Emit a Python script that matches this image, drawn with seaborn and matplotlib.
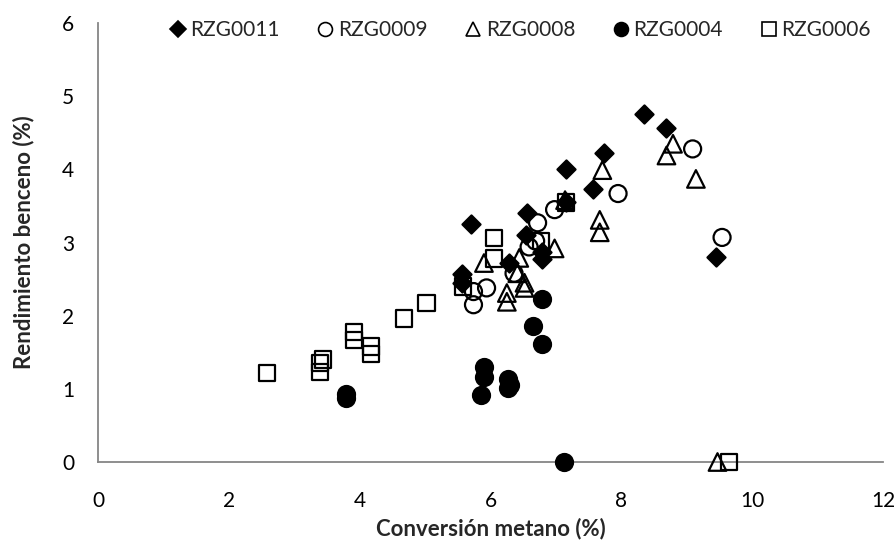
import matplotlib
matplotlib.use("Agg")
import matplotlib.pyplot as plt
import seaborn as sns
import pandas as pd
from matplotlib.lines import Line2D

# ---- data ----
x_rzg0011 = [8.34, 8.68, 7.73, 7.16, 7.57, 7.15, 6.56, 5.70, 6.55, 6.79, 6.79, 6.28, 5.56, 5.56, 9.44]
y_rzg0011 = [4.76, 4.56, 4.22, 4.00, 3.73, 3.56, 3.41, 3.25, 3.10, 2.87, 2.78, 2.72, 2.57, 2.45, 2.80]

x_rzg0009 = [9.09, 7.95, 6.98, 6.72, 6.69, 6.59, 6.36, 5.94, 5.74, 5.74, 9.54]
y_rzg0009 = [4.28, 3.67, 3.45, 3.27, 3.02, 2.94, 2.58, 2.38, 2.33, 2.15, 3.07]

x_rzg0008 = [8.79, 8.69, 9.14, 7.71, 7.67, 7.67, 7.14, 6.98, 6.44, 5.90, 6.41, 6.52, 6.52, 6.25, 6.25, 9.47]
y_rzg0008 = [4.35, 4.19, 3.87, 3.99, 3.31, 3.14, 3.58, 2.92, 2.79, 2.72, 2.58, 2.45, 2.38, 2.31, 2.19, 0.00]

x_rzg0004 = [6.79, 6.65, 6.79, 5.90, 5.90, 5.85, 6.27, 6.30, 6.27, 3.79, 3.79, 7.12]
y_rzg0004 = [2.23, 1.86, 1.61, 1.30, 1.16, 0.92, 1.13, 1.05, 1.01, 0.93, 0.87, 0.00]

x_rzg0006 = [2.58, 3.44, 3.39, 3.39, 3.91, 3.91, 4.17, 4.17, 4.68, 5.02, 5.58, 6.05, 6.05, 6.77, 7.15, 9.65]
y_rzg0006 = [1.22, 1.40, 1.35, 1.23, 1.78, 1.67, 1.58, 1.48, 1.96, 2.17, 2.40, 3.06, 2.78, 3.02, 3.55, 0.00]

series_names = ["RZG0011", "RZG0009", "RZG0008", "RZG0004", "RZG0006"]
x_ticks = [0, 2, 4, 6, 8, 10, 12]
y_ticks = [0, 1, 2, 3, 4, 5, 6]

sns.set_style("white")
plt.rcParams["font.family"] = ["Lato", "DejaVu Sans"]

fig = plt.figure(figsize=(8.94, 5.5), dpi=100)
ax = fig.add_axes([0.1096, 0.16, 0.8781, 0.798])

styles = {
    "RZG0011": dict(marker="D", fc="black", s=85),
    "RZG0009": dict(marker="o", fc="none", s=150),
    "RZG0008": dict(marker="^", fc="none", s=160),
    "RZG0004": dict(marker="o", fc="black", s=150),
    "RZG0006": dict(marker="s", fc="none", s=140),
}
data = {
    "RZG0011": (x_rzg0011, y_rzg0011),
    "RZG0009": (x_rzg0009, y_rzg0009),
    "RZG0008": (x_rzg0008, y_rzg0008),
    "RZG0004": (x_rzg0004, y_rzg0004),
    "RZG0006": (x_rzg0006, y_rzg0006),
}
order = ["RZG0006", "RZG0004", "RZG0008", "RZG0009", "RZG0011"]
for name in order:
    xs, ys = data[name]
    st = styles[name]
    df = pd.DataFrame({"x": xs, "y": ys})
    sns.scatterplot(data=df, x="x", y="y", ax=ax, marker=st["marker"], s=st["s"],
                    facecolor=st["fc"], edgecolor="black", linewidth=1.6,
                    legend=False, zorder=3, clip_on=False)

ax.set_xlim(0, 12)
ax.set_ylim(0, 6)
ax.set_xticks(x_ticks)
ax.set_yticks(y_ticks)
ax.set_xticklabels([str(t) for t in x_ticks])
ax.set_yticklabels([str(t) for t in y_ticks])

for side in ["top", "right"]:
    ax.spines[side].set_visible(False)
for side in ["left", "bottom"]:
    ax.spines[side].set_color("#868686")
    ax.spines[side].set_linewidth(1.3)
ax.tick_params(axis="both", which="major", direction="out", length=5, width=1.3,
               color="#868686", labelsize=15, labelcolor="black", pad=12)
ax.tick_params(axis="x", pad=16)

ax.set_xlabel("Conversión metano (%)", fontsize=16, fontweight="bold", labelpad=5)
ax.set_ylabel("Rendimiento benceno (%)", fontsize=16, fontweight="bold", labelpad=20)

handles = []
for name in series_names:
    st = styles[name]
    ms = {"D": 8, "o": 10, "^": 10, "s": 10}[st["marker"]]
    handles.append(Line2D([], [], linestyle="none", marker=st["marker"], markersize=ms,
                          markerfacecolor=st["fc"], markeredgecolor="black",
                          markeredgewidth=1.2))
leg = ax.legend(handles, series_names, loc="center", bbox_to_anchor=(0.537, 0.984),
                ncol=5, frameon=False, fontsize=15, handletextpad=0.15,
                columnspacing=1.75, handlelength=0.9, borderaxespad=0)

fig.savefig("out.png", dpi=100, facecolor="white")
